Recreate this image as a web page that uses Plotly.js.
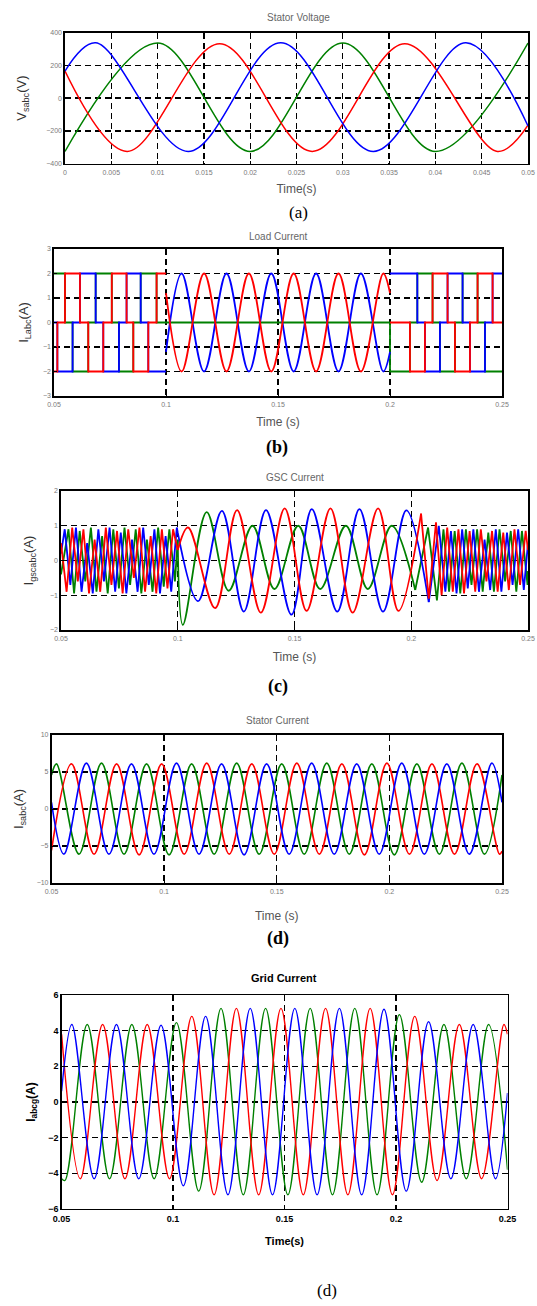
<!DOCTYPE html>
<html><head><meta charset="utf-8">
<script src="https://cdn.plot.ly/plotly-3.0.1.min.js"></script>
<style>html,body{margin:0;padding:0;background:#fff}#chart{width:537px;height:1306px}</style>
</head><body><div id="chart"></div>
<script>
// ---------- (a) Stator Voltage ----------
const tA_blue = [0, 0.0033, 0.0133, 0.0233, 0.0333, 0.0433, 0.05];
const vA_blue = [165, 337, -325, 337, -325, 337, -170];
const tA_red = [0, 0.0067, 0.0167, 0.0267, 0.0367, 0.0467, 0.05];
const vA_red = [165, -325, 332, -325, 332, -325, -165];
const tA_green = [0, 0.01, 0.02, 0.03, 0.04, 0.05];
const vA_green = [-325, 336, -325, 336, -325, 336];
const xTicksA = [0, 0.005, 0.01, 0.015, 0.02, 0.025, 0.03, 0.035, 0.04, 0.045, 0.05];
const xTickTextA = ['0', '0.005', '0.01', '0.015', '0.02', '0.025', '0.03', '0.035', '0.04', '0.045', '0.05'];

// ---------- (b) Load Current ----------
const tB_red1 = [0.05, 0.0515, 0.0549, 0.0616, 0.0653, 0.0720, 0.0758, 0.0824, 0.0854, 0.0921, 0.0958, 0.1];
const vB_red1 = [-2, 0, 2, 0, -2, 0, 2, 0, -2, 0, 2, 2];
const tB_red2 = [0.2, 0.2089, 0.2156, 0.219, 0.2257, 0.229, 0.2357, 0.2391, 0.2458, 0.25];
const vB_red2 = [0, -2, 0, 2, 0, -2, 0, 2, 0, 0];
const tB_green = [0.05, 0.0549, 0.0583, 0.0653, 0.0686, 0.0758, 0.079, 0.0854, 0.0887, 0.0958, 0.2, 0.2089, 0.2122, 0.219, 0.2223, 0.229, 0.2324, 0.2391, 0.2424, 0.25];
const vB_green = [2, 0, -2, 0, 2, 0, -2, 0, 2, 0, -2, 0, 2, 0, -2, 0, 2, 0, -2, -2];
const tB_blue1 = [0.05, 0.0515, 0.0583, 0.0616, 0.0686, 0.072, 0.079, 0.0824, 0.0887, 0.0921, 0.1];
const vB_blue1 = [0, -2, 0, 2, 0, -2, 0, 2, 0, -2, -2];
const tB_blue2 = [0.2, 0.2122, 0.2156, 0.2223, 0.2257, 0.2324, 0.2357, 0.2424, 0.2458, 0.25];
const vB_blue2 = [2, 0, -2, 0, 2, 0, -2, 0, 2, 2];
const tB_sine = [0.1, 0.107, 0.117, 0.127, 0.137, 0.147, 0.157, 0.167, 0.177, 0.187, 0.197, 0.2];
const vB_red_sine = [1.2, -2, 2, -2, 2, -2, 2, -2, 2, -2, 2, 1.2];
const vB_blue_sine = [-1.2, 2, -2, 2, -2, 2, -2, 2, -2, 2, -2, -1.2];

// ---------- (c) GSC Current ----------
const tC_red1 = [0.05, 0.0524, 0.0548, 0.0572, 0.0596, 0.062, 0.0644, 0.0668, 0.0692, 0.0716, 0.074, 0.0764, 0.0788, 0.0812, 0.0836, 0.086, 0.0884, 0.0908, 0.0932, 0.0956, 0.098, 0.1];
const vC_red1 = [0.5, -0.9, 0.95, -0.6, 0.9, -0.95, 0.6, -0.9, 0.95, -0.7, 0.85, -0.95, 0.9, -0.5, 0.95, -0.9, 0.7, -0.95, 0.9, -0.8, 0.9, 0.3];
const tC_green1 = [0.05, 0.0532, 0.0556, 0.058, 0.0604, 0.0628, 0.0652, 0.0676, 0.07, 0.0724, 0.0748, 0.0772, 0.0796, 0.082, 0.0844, 0.0868, 0.0892, 0.0916, 0.094, 0.0964, 0.0988, 0.1];
const vC_green1 = [-0.4, 0.9, -0.95, 0.85, -0.6, 0.95, -0.9, 0.7, -0.95, 0.9, -0.8, 0.95, -0.7, 0.9, -0.95, 0.6, -0.9, 0.95, -0.75, 0.9, -0.6, 0.6];
const tC_blue1 = [0.05, 0.0516, 0.054, 0.0564, 0.0588, 0.0612, 0.0636, 0.066, 0.0684, 0.0708, 0.0732, 0.0756, 0.078, 0.0804, 0.0828, 0.0852, 0.0876, 0.09, 0.0924, 0.0948, 0.0972, 0.0996, 0.1];
const vC_blue1 = [0.2, 0.9, -0.7, 0.95, -0.9, 0.5, -0.95, 0.9, -0.6, 0.95, -0.9, 0.8, -0.95, 0.6, -0.9, 0.95, -0.7, 0.9, -0.95, 0.7, -0.9, 0.95, 0.8];
const tC_red_s = [0.1, 0.1044, 0.116, 0.1254, 0.1356, 0.1458, 0.1552, 0.1654, 0.1749, 0.1858, 0.1945, 0.2042];
const vC_red_s = [0.3, 0.95, -1.37, 1.45, -1.5, 1.5, -1.45, 1.5, -1.5, 1.5, -1.45, 1.35];
const tC_green_s = [0.1, 0.1022, 0.1124, 0.1218, 0.132, 0.1414, 0.1516, 0.161, 0.172, 0.1814, 0.1916, 0.2017];
const vC_green_s = [0.6, -1.85, 1.39, -0.87, 1.0, -0.82, 1.0, -0.82, 1.0, -0.82, 1.0, -0.85];
const tC_blue_s = [0.1, 0.1087, 0.1189, 0.1283, 0.1378, 0.1487, 0.1574, 0.1683, 0.1778, 0.1879, 0.1979, 0.2075];
const vC_blue_s = [0.8, -1.17, 1.43, -1.47, 1.45, -1.56, 1.48, -1.47, 1.48, -1.47, 1.44, -1.2];
const tC_red2 = [0.2042, 0.2075, 0.2106, 0.213, 0.2154, 0.2178, 0.2202, 0.2226, 0.225, 0.2274, 0.2298, 0.2322, 0.2346, 0.237, 0.2394, 0.2418, 0.2442, 0.2466, 0.249, 0.25];
const vC_red2 = [1.35, -1.1, 1.1, -1.0, 0.95, -0.9, 0.9, -0.95, 0.85, -0.9, 0.9, -0.6, 0.85, -0.9, 0.8, -0.85, 0.9, -0.7, 0.85, 0.3];
const tC_green2 = [0.2017, 0.2072, 0.211, 0.2138, 0.2162, 0.2186, 0.221, 0.2234, 0.2258, 0.2282, 0.2306, 0.233, 0.2354, 0.2378, 0.2402, 0.2426, 0.245, 0.2474, 0.2498, 0.25];
const vC_green2 = [-0.85, 0.95, -1.15, 0.9, -0.9, 0.85, -0.95, 0.9, -0.7, 0.9, -0.9, 0.8, -0.9, 0.9, -0.6, 0.85, -0.9, 0.85, -0.7, -0.3];
const tC_blue2 = [0.2075, 0.2118, 0.2146, 0.217, 0.2194, 0.2218, 0.2242, 0.2266, 0.229, 0.2314, 0.2338, 0.2362, 0.2386, 0.241, 0.2434, 0.2458, 0.2482, 0.25];
const vC_blue2 = [-1.2, 1.0, -0.9, 0.85, -0.95, 0.9, -0.8, 0.9, -0.9, 0.6, -0.85, 0.9, -0.9, 0.8, -0.7, 0.9, -0.85, 0.5];

// ---------- (d) Stator Current ----------
const tD_green = [0.05, 0.0522, 0.0622, 0.0722, 0.0822, 0.0922, 0.1022, 0.1122, 0.1222, 0.1322, 0.1422, 0.1522, 0.1622, 0.1722, 0.1822, 0.1922, 0.2022, 0.2122, 0.2222, 0.2322, 0.2422, 0.25];
const vD_green = [4.6, 6.1, -6.1, 6.2, -6.1, 6.1, -6.2, 6.1, -6.1, 6.2, -6.1, 6.1, -6.1, 6.2, -6.1, 6.1, -6.2, 6.1, -6.1, 6.2, -6.1, 4.6];
const tD_red = [0.05, 0.0589, 0.0689, 0.0789, 0.0889, 0.0989, 0.1089, 0.1189, 0.1289, 0.1389, 0.1489, 0.1589, 0.1689, 0.1789, 0.1889, 0.1989, 0.2089, 0.2189, 0.2289, 0.2389, 0.2489, 0.25];
const vD_red = [-5.6, 6.1, -6.1, 6.1, -6.2, 6.1, -6.1, 6.2, -6.1, 6.1, -6.1, 6.2, -6.1, 6.1, -6.2, 6.2, -6.1, 6.1, -6.1, 6.1, -6.1, -5.7];
const tD_blue = [0.05, 0.0555, 0.0655, 0.0755, 0.0855, 0.0955, 0.1055, 0.1155, 0.1255, 0.1355, 0.1455, 0.1555, 0.1655, 0.1755, 0.1855, 0.1955, 0.2055, 0.2155, 0.2255, 0.2355, 0.2455, 0.25];
const vD_blue = [0.9, -6.1, 6.2, -6.1, 6.1, -6.1, 6.2, -6.1, 6.1, -6.2, 6.1, -6.1, 6.2, -6.1, 6.1, -6.1, 6.2, -6.1, 6.1, -6.1, 6.2, 0.9];

// ---------- (e) Grid Current ----------
const tE_blue = [0.05, 0.0546, 0.0646, 0.0746, 0.0846, 0.0946, 0.1046, 0.1146, 0.1246, 0.1346, 0.1446, 0.1546, 0.1646, 0.1746, 0.1846, 0.1946, 0.2046, 0.2146, 0.2246, 0.2346, 0.2446, 0.25];
const vE_blue = [0.6, 4.35, -4.3, 4.35, -4.3, 4.3, -4.7, 4.8, -5.2, 5.25, -5.2, 5.25, -5.2, 5.25, -5.2, 5.2, -5.0, 4.5, -4.3, 4.35, -4.3, 0.5];
const tE_green = [0.05, 0.0515, 0.0615, 0.0715, 0.0815, 0.0915, 0.1015, 0.1115, 0.1215, 0.1315, 0.1415, 0.1515, 0.1615, 0.1715, 0.1815, 0.1915, 0.2015, 0.2115, 0.2215, 0.2315, 0.2415, 0.25];
const vE_green = [-4.3, -4.4, 4.35, -4.3, 4.35, -4.3, 4.45, -5.0, 5.25, -5.2, 5.25, -5.2, 5.25, -5.2, 5.25, -5.2, 4.9, -4.5, 4.35, -4.3, 4.35, -3.8];
const tE_red = [0.05, 0.0584, 0.0684, 0.0784, 0.0884, 0.0984, 0.1084, 0.1184, 0.1284, 0.1384, 0.1484, 0.1584, 0.1684, 0.1784, 0.1884, 0.1984, 0.2084, 0.2184, 0.2284, 0.2384, 0.2484, 0.25];
const vE_red = [3.8, -4.3, 4.35, -4.3, 4.35, -4.3, 4.8, -5.2, 5.25, -5.2, 5.25, -5.2, 5.25, -5.2, 5.25, -5.2, 4.8, -4.4, 4.35, -4.3, 4.35, 3.8];

// ---------- text ----------
const panelTitles = ['Stator Voltage', 'Load Current', 'GSC Current', 'Stator Current', 'Grid Current'];
const xTitles = ['Time(s)', 'Time (s)', 'Time (s)', 'Time (s)', 'Time(s)'];
const yTitles = ['V<sub>sabc</sub>(V)', 'I<sub>Labc</sub>(A)', 'I<sub>gscabc</sub>(A)', 'I<sub>sabc</sub>(A)', 'I<sub>abcg</sub>(A)'];
const captions = ['(a)', '(b)', '(c)', '(d)', '(d)'];

const W = 537, H = 1306;
const fx = p => p / W, fy = p => 1 - p / H;
const RED = '#ff0000', GREEN = '#008000', BLUE = '#0000ff';

function tr(x, y, color, n, shape, width) {
  const s = n === 1 ? '' : String(n);
  return {x: x, y: y, type: 'scatter', mode: 'lines',
    line: {color: color, width: width || 1.5, shape: shape || 'spline', smoothing: 1},
    xaxis: 'x' + s, yaxis: 'y' + s, hoverinfo: 'skip', showlegend: false};
}

const data = [
  tr(tA_green, vA_green, GREEN, 1), tr(tA_red, vA_red, RED, 1), tr(tA_blue, vA_blue, BLUE, 1),

  tr(tB_green, vB_green, GREEN, 2, 'hv', 1.8),
  tr(tB_blue1, vB_blue1, BLUE, 2, 'hv', 1.8), tr(tB_blue2, vB_blue2, BLUE, 2, 'hv', 1.8),
  tr(tB_sine, vB_blue_sine, BLUE, 2, 'spline', 1.8),
  tr(tB_red1, vB_red1, RED, 2, 'hv', 1.8), tr(tB_red2, vB_red2, RED, 2, 'hv', 1.8),
  tr(tB_sine, vB_red_sine, RED, 2, 'spline', 1.8),

  tr(tC_green1, vC_green1, GREEN, 3, 'linear', 1.8), tr(tC_green_s, vC_green_s, GREEN, 3, 'spline', 1.8), tr(tC_green2, vC_green2, GREEN, 3, 'linear', 1.8),
  tr(tC_blue1, vC_blue1, BLUE, 3, 'linear', 1.8), tr(tC_blue_s, vC_blue_s, BLUE, 3, 'spline', 1.8), tr(tC_blue2, vC_blue2, BLUE, 3, 'linear', 1.8),
  tr(tC_red1, vC_red1, RED, 3, 'linear', 1.8), tr(tC_red_s, vC_red_s, RED, 3, 'spline', 1.8), tr(tC_red2, vC_red2, RED, 3, 'linear', 1.8),

  tr(tD_green, vD_green, GREEN, 4, 'spline', 1.6), tr(tD_red, vD_red, RED, 4, 'spline', 1.6), tr(tD_blue, vD_blue, BLUE, 4, 'spline', 1.6),

  tr(tE_green, vE_green, GREEN, 5, 'spline', 1.4), tr(tE_red, vE_red, RED, 5, 'spline', 1.4), tr(tE_blue, vE_blue, BLUE, 5, 'spline', 1.4)
];

// plot-area boxes in pixels: [left, right, top, bottom]
const boxes = [
  [65, 528, 32.5, 163.7],
  [54, 502, 249, 396],
  [61, 528, 491, 630],
  [51.5, 502, 735, 883],
  [61.6, 507.5, 995, 1209]
];
const xr = [[0, 0.05], [0.05, 0.25], [0.05, 0.25], [0.05, 0.25], [0.05, 0.25]];
const xd = [0.005, 0.05, 0.05, 0.05, 0.05];
const yr = [[-400, 400], [-3, 3], [-2, 2], [-10, 10], [-6, 6]];
const yd = [200, 1, 1, 5, 2];
const xStand = [10, 10, 11, 17, 14];
const yStand = [16, 11, 13, 10, 10];

const layout = {
  width: W, height: H, margin: {l: 0, r: 0, t: 0, b: 0},
  paper_bgcolor: '#ffffff', plot_bgcolor: '#ffffff', showlegend: false,
  annotations: []
};

for (let i = 0; i < 5; i++) {
  const n = i + 1, s = n === 1 ? '' : String(n);
  const b = boxes[i];
  const bold = i === 4;
  const wt = bold ? 'bold' : 'normal';
  const tf = bold ? {family: 'Liberation Sans', size: 9, color: '#000', weight: 'bold'}
                  : {family: 'Liberation Sans', size: 7, color: '#7a7a7a'};
  const common = {
    showline: true, mirror: true, linecolor: '#000', linewidth: bold ? 1.2 : 1.6,
    ticks: 'inside', ticklen: 3, tickcolor: '#000', tickwidth: 1,
    showgrid: true, gridcolor: '#000', gridwidth: 1.3, griddash: '6px,4px',
    zeroline: false, tickfont: tf, fixedrange: true, automargin: false,
    ticklabeloverflow: 'allow'
  };
  const xa = Object.assign({}, common, {
    domain: [fx(b[0]), fx(b[1])], range: xr[i], anchor: 'y' + s, ticklabelstandoff: 1,
    title: {text: xTitles[i], standoff: xStand[i],
      font: {family: 'Liberation Sans', size: bold ? 11 : 12, color: bold ? '#000' : '#555', weight: wt}}
  });
  if (i === 0) { xa.tickmode = 'array'; xa.tickvals = xTicksA; xa.ticktext = xTickTextA; }
  else { xa.dtick = xd[i]; xa.tick0 = 0; }
  layout['xaxis' + s] = xa;
  layout['yaxis' + s] = Object.assign({}, common, {
    domain: [fy(b[3]), fy(b[2])], range: yr[i], dtick: yd[i], tick0: 0,
    anchor: 'x' + s,
    title: {text: yTitles[i], standoff: yStand[i],
      font: {family: 'Liberation Sans', size: bold ? 12 : 13, color: bold ? '#000' : '#333', weight: wt}}
  });
}

const titlePos = [[298, 17], [278, 237], [295, 478], [277, 720], [284, 978]];
const capPos = [[298, 213], [277, 447], [278, 686], [278, 938], [327, 1290]];

function ann(text, p, font) {
  layout.annotations.push({text: text, x: fx(p[0]), y: fy(p[1]), xref: 'paper', yref: 'paper',
    xanchor: 'center', yanchor: 'middle', showarrow: false, font: font});
}
for (let i = 0; i < 5; i++) {
  const bold = i === 4;
  ann(panelTitles[i], titlePos[i],
      {family: 'Liberation Sans', size: bold ? 11 : 10, color: bold ? '#000' : '#666', weight: bold ? 'bold' : 'normal'});
  const capBold = (i >= 1 && i <= 3);
  ann(captions[i], capPos[i], {family: 'Liberation Serif', size: capBold ? 18 : 17, color: '#000',
      weight: capBold ? 'bold' : 'normal'});
}

Plotly.newPlot('chart', data, layout, {staticPlot: true, displayModeBar: false});
</script>
</body></html>
